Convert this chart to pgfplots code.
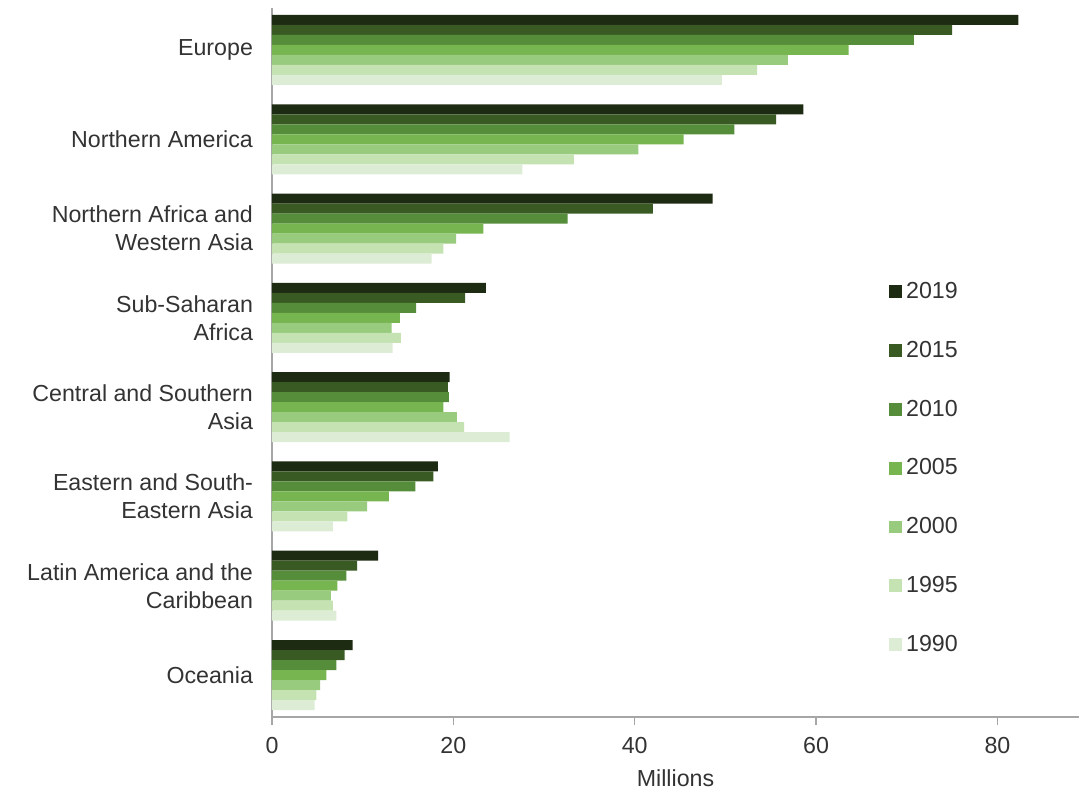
\documentclass[border=0pt]{standalone}
\usepackage{pgfplots}
\usepackage{pgfplotstable}
\pgfplotsset{compat=1.18}
\usepackage{fontspec}
\setmainfont{Liberation Sans}

\definecolor{c2019}{HTML}{1E2B13}
\definecolor{c2015}{HTML}{3A5A23}
\definecolor{c2010}{HTML}{568D3A}
\definecolor{c2005}{HTML}{76B54F}
\definecolor{c2000}{HTML}{98CB7D}
\definecolor{c1995}{HTML}{C5E2B3}
\definecolor{c1990}{HTML}{DDECD5}
\definecolor{axisgray}{HTML}{A6A6A6}
\definecolor{txt}{HTML}{333333}

% international migrants by region, millions (pos 7 = Europe ... 0 = Oceania)
\pgfplotstableread{
pos y2019 y2015 y2010 y2005 y2000 y1995 y1990
7 82.3 75.0 70.8 63.6 56.9 53.5 49.6
6 58.6 55.6 51.0 45.4 40.4 33.3 27.6
5 48.6 42.0 32.6 23.3 20.3 18.9 17.6
4 23.6 21.3 15.9 14.1 13.2 14.2 13.3
3 19.6 19.4 19.5 18.9 20.4 21.2 26.2
2 18.3 17.8 15.8 12.9 10.5 8.3 6.7
1 11.7 9.4 8.2 7.2 6.5 6.7 7.1
0 8.9 8.0 7.1 6.0 5.3 4.9 4.7
}\migrants

\begin{document}
\begin{tikzpicture}
\begin{axis}[
    scale only axis,
    width=403.5pt, height=354.5pt,
    xbar, bar width=0.112,
    xmin=0, xmax=89,
    ymin=-0.47, ymax=7.47,
    axis x line*=bottom, axis y line*=left,
    axis line style={axisgray, line width=0.75pt},
    xtick={0,20,40,60,80},
    tick align=outside,
    major tick length=4pt,
    x tick style={axisgray, line width=0.75pt},
    ytick={0,...,7},
    y tick style={draw=none},
    yticklabels={Oceania,{Latin America and the\\Caribbean},{Eastern and South-\\Eastern Asia},{Central and Southern\\Asia},{Sub-Saharan\\Africa},{Northern Africa and\\Western Asia},Northern America,Europe},
    yticklabel style={align=right, font=\fontsize{11.6}{14}\selectfont, text=txt, xshift=-2pt},
    xticklabel style={font=\fontsize{11.6}{14}\selectfont, text=txt, yshift=-2.5pt},
    /pgf/number format/assume math mode=true,
    xlabel={Millions},
    xlabel style={font=\fontsize{11.6}{14}\selectfont, text=txt, yshift=-1pt},
    legend style={draw=none, fill=none, at={(0.757,0.625)}, anchor=north west,
        font=\fontsize{11.6}{14}\selectfont, text=txt, row sep=15.8pt,
        /tikz/every even column/.append style={column sep=1pt}},
    legend cell align=left,
    legend image code/.code={\path[#1] (0pt,-3.2pt) rectangle (6.4pt,3.2pt);},
]
\addplot[fill=c2019, draw=none, bar shift=0.336] table[x=y2019, y=pos]{\migrants};
\addplot[fill=c2015, draw=none, bar shift=0.224] table[x=y2015, y=pos]{\migrants};
\addplot[fill=c2010, draw=none, bar shift=0.112] table[x=y2010, y=pos]{\migrants};
\addplot[fill=c2005, draw=none, bar shift=0] table[x=y2005, y=pos]{\migrants};
\addplot[fill=c2000, draw=none, bar shift=-0.112] table[x=y2000, y=pos]{\migrants};
\addplot[fill=c1995, draw=none, bar shift=-0.224] table[x=y1995, y=pos]{\migrants};
\addplot[fill=c1990, draw=none, bar shift=-0.336] table[x=y1990, y=pos]{\migrants};
\legend{2019,2015,2010,2005,2000,1995,1990}
\coordinate (sw) at (rel axis cs:0,0);
\coordinate (ne) at (rel axis cs:1,1);
\end{axis}
\pgfresetboundingbox
\path[use as bounding box] ([shift={(-136pt,-38pt)}]sw) rectangle ([shift={(0pt,4pt)}]ne);
\end{tikzpicture}
\end{document}
